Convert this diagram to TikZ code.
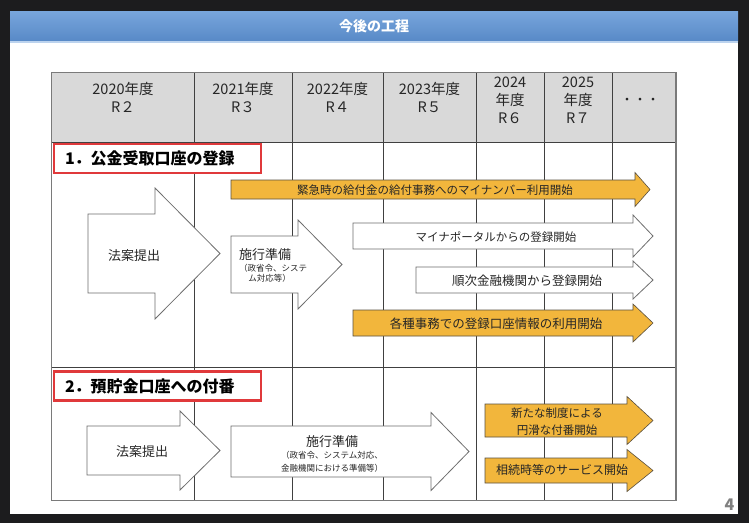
\documentclass[tikz,border=0pt]{standalone}
\usepackage{fontspec}
\setmainfont{Noto Sans CJK JP}
\usetikzlibrary{positioning}

\definecolor{frame}{HTML}{1C1C1E}
\definecolor{barTop}{HTML}{78A6DC}
\definecolor{barBot}{HTML}{5889C7}
\definecolor{barLine}{HTML}{BCD3EE}
\definecolor{hdr}{HTML}{D9D9D9}
\definecolor{grid}{HTML}{404040}
\definecolor{outer}{HTML}{7A7A7A}
\definecolor{edge}{HTML}{6E6E6E}
\definecolor{goldfill}{HTML}{F2B63C}
\definecolor{goldedge}{HTML}{5A5040}
\definecolor{tagred}{HTML}{E0393B}
\definecolor{ink}{HTML}{262626}

\newcommand{\blockarrow}[7][]{%
  \draw[#1] (#2,#5-#6) -- (#3,#5-#6) -- (#3,#5-#7) -- (#4,#5)
    -- (#3,#5+#7) -- (#3,#5+#6) -- (#2,#5+#6) -- cycle;}

\begin{document}
\begin{tikzpicture}[x=1pt,y=-1pt,
  cell/.style={font=\fontsize{14.5}{18}\selectfont,text=ink,align=center,inner sep=0pt},
  tag/.style={draw=tagred,line width=2.1pt,fill=white,minimum width=207pt,minimum height=29pt,inner xsep=11pt,inner ysep=0pt,text width=185pt,align=left,font=\bfseries\fontsize{16}{18}\selectfont,text=black},
  plain/.style={draw=edge,fill=white,line width=0.8pt},
  gold/.style={draw=goldedge,fill=goldfill,line width=0.6pt},
  lbl/.style={text=ink,inner sep=0pt,align=center,font=\fontsize{12}{14}\selectfont}
]
\useasboundingbox (0,0) rectangle (749,523);
\fill[frame] (0,0) rectangle (749,523);
\fill[white] (10,11) rectangle (738,514);
\shade[top color=barTop,bottom color=barBot] (10,11) rectangle (738,41);
\fill[barLine] (10,41) rectangle (738,43);
\node[text=white,font=\bfseries\fontsize{14}{16}\selectfont] (title) at (374,26) {今後の工程};

\fill[hdr] (51.7,72.7) rectangle (676,142.5);
\foreach \x in {194,292,383,476,544,612}
  \draw[grid,line width=0.9pt] (\x,72.7) -- (\x,500.5);
\draw[grid,line width=0.9pt] (51.7,142.5) -- (676,142.5);
\draw[grid,line width=1.1pt] (51.7,367.5) -- (676,367.5);
\draw[outer,line width=1.5pt] (51.7,72.7) rectangle (676,500.5);

\node[cell] (c20) at (123,97) {2020年度\\R２};
\node[cell] (c21) at (243,97) {2021年度\\R３};
\node[cell] (c22) at (337.5,97) {2022年度\\R４};
\node[cell] (c23) at (429.5,97) {2023年度\\R５};
\node[cell] (c24) at (510,100.5) {2024\\年度\\R６};
\node[cell] (c25) at (578,100.5) {2025\\年度\\R７};
\node[cell,font=\fontsize{13}{16}\selectfont] (cmore) at (640,101) {・・・};

\node[tag] (sec1) at (157.5,158.5) {1．公金受取口座の登録};
\blockarrow[gold]{231}{635}{650}{189.5}{9.5}{17}
\node[lbl,font=\fontsize{11.5}{14}\selectfont] (emerg) at (435,190) {緊急時の給付金の給付事務へのマイナンバー利用開始};
\blockarrow[plain]{88}{155}{220}{253.5}{39.5}{65.5}
\node[lbl,font=\fontsize{13}{15}\selectfont] (bill1) at (134,256) {法案提出};
\blockarrow[plain]{231}{298}{342}{264.5}{28.5}{44.5}
\node[lbl,align=left,font=\fontsize{13}{15}\selectfont] (prep1) at (273,265)
  {施行準備\\[-3pt]{\fontsize{8.5}{10}\selectfont （政省令、システ}\\[-5pt]{\fontsize{8.5}{10}\selectfont \hspace*{1.1em}ム対応等）}};
\blockarrow[plain]{353}{633}{653}{236}{13}{21}
\node[lbl,font=\fontsize{11.5}{14}\selectfont] (portal) at (496,237) {マイナポータルからの登録開始};
\blockarrow[plain]{416}{633}{653}{280}{13}{19}
\node[lbl,font=\fontsize{12.5}{14}\selectfont] (banks) at (527,281) {順次金融機関から登録開始};
\blockarrow[gold]{353}{633}{653}{323}{13}{19}
\node[lbl,font=\fontsize{12.5}{14}\selectfont] (reuse) at (496,324) {各種事務での登録口座情報の利用開始};

\node[tag] (sec2) at (157.5,386) {2．預貯金口座への付番};
\blockarrow[plain]{87}{180}{220}{450.5}{24.5}{39.5}
\node[lbl,font=\fontsize{13}{15}\selectfont] (bill2) at (142,452) {法案提出};
\blockarrow[plain]{231}{431}{469}{451.5}{25.5}{39}
\node[lbl,font=\fontsize{13}{15}\selectfont] (prep2) at (332,454)
  {施行準備\\[-3pt]{\fontsize{8.5}{10}\selectfont （政省令、システム対応、}\\[-2pt]{\fontsize{8.5}{10}\selectfont 金融機関における準備等）}};
\blockarrow[gold]{485}{627}{653}{420.5}{16.5}{24}
\node[lbl,font=\fontsize{11.5}{17}\selectfont] (newnum) at (557,421.5) {新たな制度による\\円滑な付番開始};
\blockarrow[gold]{485}{627}{653}{470.5}{12.5}{21}
\node[lbl,font=\fontsize{12}{14}\selectfont] (inherit) at (562,470) {相続時等のサービス開始};

\node[text=gray,font=\bfseries\fontsize{16}{18}\selectfont,inner sep=0pt] (page) at (729.5,505) {4};
\end{tikzpicture}
\end{document}
